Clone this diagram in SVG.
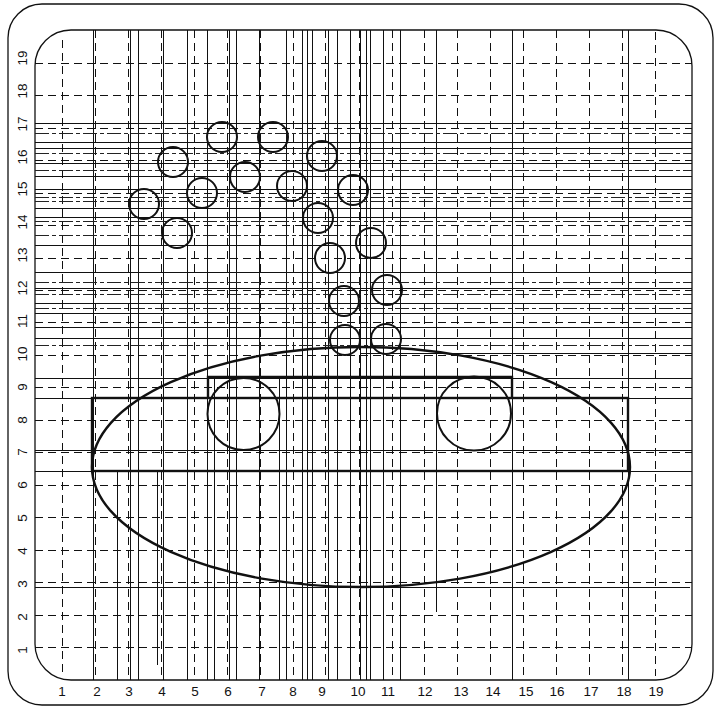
<svg xmlns="http://www.w3.org/2000/svg" width="715" height="708" viewBox="0 0 715 708">
<style>
.frame{fill:none;stroke:#111;stroke-width:1.3}
line{shape-rendering:crispEdges}
.dash{stroke:#111;stroke-width:1;stroke-dasharray:8 5;fill:none}
.thin{stroke:#111;stroke-width:1;fill:none}
.gray{stroke:#222;stroke-width:1;stroke-dasharray:14 3 4 3;fill:none}
.thick{stroke:#111;stroke-width:2.4;fill:none}
.circ{stroke:#111;stroke-width:2;fill:none}
.lab{font-family:"Liberation Sans","DejaVu Sans",sans-serif;font-size:13.5px;fill:#111;text-anchor:middle}
</style>
<rect width="715" height="708" fill="#fff"/>
<g id="frame">
<rect class="frame" x="8" y="4" width="705" height="701" rx="34" ry="34"/>
<rect class="frame" x="35" y="30" width="657" height="650" rx="36" ry="36"/>
</g>
<g id="grid">
<g id="grid-v">
<line class="dash" x1="62" y1="40" x2="62" y2="676"/>
<line class="dash" x1="95" y1="30" x2="95" y2="680"/>
<line class="dash" x1="128" y1="30" x2="128" y2="680"/>
<line class="dash" x1="161" y1="30" x2="161" y2="680"/>
<line class="dash" x1="194" y1="30" x2="194" y2="680"/>
<line class="dash" x1="227" y1="30" x2="227" y2="680"/>
<line class="dash" x1="260" y1="30" x2="260" y2="680"/>
<line class="dash" x1="293" y1="30" x2="293" y2="680"/>
<line class="dash" x1="325" y1="30" x2="325" y2="680"/>
<line class="dash" x1="359" y1="30" x2="359" y2="680"/>
<line class="dash" x1="392" y1="30" x2="392" y2="680"/>
<line class="dash" x1="424" y1="30" x2="424" y2="680"/>
<line class="dash" x1="457" y1="30" x2="457" y2="680"/>
<line class="dash" x1="490" y1="30" x2="490" y2="680"/>
<line class="dash" x1="523" y1="30" x2="523" y2="680"/>
<line class="dash" x1="556" y1="30" x2="556" y2="680"/>
<line class="dash" x1="589" y1="30" x2="589" y2="680"/>
<line class="dash" x1="622" y1="30" x2="622" y2="680"/>
<line class="dash" x1="655" y1="32" x2="655" y2="676"/>
</g>
<g id="grid-h">
<line class="dash" x1="35" y1="647" x2="692" y2="647"/>
<line class="dash" x1="35" y1="615" x2="692" y2="615"/>
<line class="dash" x1="35" y1="582" x2="692" y2="582"/>
<line class="dash" x1="35" y1="550" x2="692" y2="550"/>
<line class="dash" x1="35" y1="517" x2="692" y2="517"/>
<line class="dash" x1="35" y1="485" x2="692" y2="485"/>
<line class="dash" x1="35" y1="452" x2="692" y2="452"/>
<line class="dash" x1="35" y1="420" x2="692" y2="420"/>
<line class="dash" x1="35" y1="387" x2="692" y2="387"/>
<line class="dash" x1="35" y1="355" x2="692" y2="355"/>
<line class="dash" x1="35" y1="322" x2="692" y2="322"/>
<line class="dash" x1="35" y1="290" x2="692" y2="290"/>
<line class="dash" x1="35" y1="258" x2="692" y2="258"/>
<line class="dash" x1="35" y1="225" x2="692" y2="225"/>
<line class="dash" x1="35" y1="193" x2="692" y2="193"/>
<line class="dash" x1="35" y1="160" x2="692" y2="160"/>
<line class="dash" x1="35" y1="128" x2="692" y2="128"/>
<line class="dash" x1="35" y1="95" x2="692" y2="95"/>
<line class="dash" x1="35" y1="63" x2="692" y2="63"/>
</g>
</g>
<g id="construction-v">
<line class="thin" x1="93" y1="30" x2="93" y2="680"/>
<line class="thin" x1="117" y1="470" x2="117" y2="680"/>
<line class="thin" x1="130" y1="30" x2="130" y2="680"/>
<line class="thin" x1="138" y1="30" x2="138" y2="680"/>
<line class="thin" x1="157" y1="470" x2="157" y2="665"/>
<line class="thin" x1="163" y1="30" x2="163" y2="680"/>
<line class="thin" x1="187" y1="30" x2="187" y2="680"/>
<line class="thin" x1="207" y1="30" x2="207" y2="680"/>
<line class="thin" x1="214" y1="378" x2="214" y2="680"/>
<line class="thin" x1="229" y1="30" x2="229" y2="680"/>
<line class="thin" x1="236" y1="30" x2="236" y2="680"/>
<line class="thin" x1="259" y1="30" x2="259" y2="680"/>
<line class="thin" x1="279" y1="378" x2="279" y2="680"/>
<line class="thin" x1="286" y1="30" x2="286" y2="680"/>
<line class="thin" x1="302" y1="30" x2="302" y2="680"/>
<line class="thin" x1="307" y1="30" x2="307" y2="680"/>
<line class="thin" x1="312" y1="30" x2="312" y2="680"/>
<line class="thin" x1="328" y1="30" x2="328" y2="680"/>
<line class="thin" x1="337" y1="30" x2="337" y2="680"/>
<line class="thin" x1="350" y1="30" x2="350" y2="680"/>
<line class="thin" x1="360" y1="30" x2="360" y2="680"/>
<line class="thin" x1="366" y1="30" x2="366" y2="680"/>
<line class="thin" x1="370" y1="30" x2="370" y2="680"/>
<line class="thin" x1="383" y1="30" x2="383" y2="680"/>
<line class="thin" x1="400" y1="30" x2="400" y2="680"/>
<line class="thin" x1="436" y1="30" x2="436" y2="612"/>
<line class="thin" x1="512" y1="30" x2="512" y2="680"/>
<line class="thin" x1="628" y1="30" x2="628" y2="680"/>
</g>
<g id="construction-h">
<line class="thin" x1="35" y1="123" x2="692" y2="123"/>
<line class="gray" x1="35" y1="133" x2="692" y2="133"/>
<line class="thin" x1="35" y1="142" x2="692" y2="142"/>
<line class="thin" x1="35" y1="148" x2="692" y2="148"/>
<line class="gray" x1="35" y1="153" x2="692" y2="153"/>
<line class="thin" x1="35" y1="163" x2="692" y2="163"/>
<line class="gray" x1="35" y1="170" x2="692" y2="170"/>
<line class="thin" x1="35" y1="176" x2="692" y2="176"/>
<line class="thin" x1="35" y1="189" x2="692" y2="189"/>
<line class="gray" x1="35" y1="197" x2="692" y2="197"/>
<line class="gray" x1="35" y1="201" x2="692" y2="201"/>
<line class="thin" x1="35" y1="208" x2="692" y2="208"/>
<line class="thin" x1="35" y1="217" x2="692" y2="217"/>
<line class="gray" x1="35" y1="221" x2="692" y2="221"/>
<line class="gray" x1="35" y1="235" x2="692" y2="235"/>
<line class="thin" x1="35" y1="245" x2="692" y2="245"/>
<line class="thin" x1="35" y1="272" x2="692" y2="272"/>
<line class="gray" x1="35" y1="282" x2="692" y2="282"/>
<line class="thin" x1="35" y1="288" x2="692" y2="288"/>
<line class="gray" x1="35" y1="294" x2="692" y2="294"/>
<line class="thin" x1="35" y1="303" x2="692" y2="303"/>
<line class="gray" x1="35" y1="308" x2="692" y2="308"/>
<line class="thin" x1="35" y1="313" x2="692" y2="313"/>
<line class="thin" x1="35" y1="327" x2="692" y2="327"/>
<line class="thin" x1="35" y1="338" x2="692" y2="338"/>
<line class="gray" x1="35" y1="345" x2="692" y2="345"/>
<line class="thin" x1="360" y1="353" x2="692" y2="353"/>
<line class="thin" x1="35" y1="378" x2="692" y2="378"/>
<line class="thin" x1="35" y1="398" x2="692" y2="398"/>
<line class="thin" x1="35" y1="450" x2="692" y2="450"/>
<line class="thin" x1="35" y1="471" x2="692" y2="471"/>
<line class="thin" x1="35" y1="587" x2="690" y2="587"/>
</g>
<g id="ellipse">
<ellipse class="thick" cx="361" cy="467" rx="269" ry="120"/>
</g>
<g id="rect-upper">
<path class="thick" d="M208 398 V377 H512 V398"/>
</g>
<g id="rect-main">
<rect class="thick" x="92" y="398" width="536" height="73"/>
</g>
<g id="big-circles">
<circle id="circle-left" class="circ" cx="243.5" cy="414" r="36"/>
<circle id="circle-right" class="circ" cx="474" cy="413.5" r="37"/>
</g>
<g id="small-circles">
<circle class="circ" cx="222" cy="137" r="15"/>
<circle class="circ" cx="273" cy="137" r="15"/>
<circle class="circ" cx="173" cy="162" r="15"/>
<circle class="circ" cx="322" cy="156" r="15"/>
<circle class="circ" cx="245" cy="177" r="15"/>
<circle class="circ" cx="292" cy="186" r="15"/>
<circle class="circ" cx="202" cy="193" r="15"/>
<circle class="circ" cx="353" cy="190" r="15"/>
<circle class="circ" cx="144" cy="204" r="15"/>
<circle class="circ" cx="318" cy="218" r="15"/>
<circle class="circ" cx="177" cy="233" r="15"/>
<circle class="circ" cx="371" cy="243" r="15"/>
<circle class="circ" cx="330" cy="258" r="15"/>
<circle class="circ" cx="387" cy="290" r="15"/>
<circle class="circ" cx="344" cy="301" r="15"/>
<circle class="circ" cx="345" cy="340" r="15"/>
<circle class="circ" cx="386" cy="339" r="15"/>
</g>
<g id="x-labels">
<text class="lab" x="62" y="696">1</text>
<text class="lab" x="97" y="696">2</text>
<text class="lab" x="129" y="696">3</text>
<text class="lab" x="162" y="696">4</text>
<text class="lab" x="195" y="696">5</text>
<text class="lab" x="228" y="696">6</text>
<text class="lab" x="262" y="696">7</text>
<text class="lab" x="293" y="696">8</text>
<text class="lab" x="322" y="696">9</text>
<text class="lab" x="358" y="696">10</text>
<text class="lab" x="388" y="696">11</text>
<text class="lab" x="425" y="696">12</text>
<text class="lab" x="461" y="696">13</text>
<text class="lab" x="493" y="696">14</text>
<text class="lab" x="526" y="696">15</text>
<text class="lab" x="557" y="696">16</text>
<text class="lab" x="591" y="696">17</text>
<text class="lab" x="624" y="696">18</text>
<text class="lab" x="656" y="696">19</text>
</g>
<g id="y-labels">
<text class="lab" transform="translate(27 650) rotate(-90)">1</text>
<text class="lab" transform="translate(27 617) rotate(-90)">2</text>
<text class="lab" transform="translate(27 584) rotate(-90)">3</text>
<text class="lab" transform="translate(27 551) rotate(-90)">4</text>
<text class="lab" transform="translate(27 518) rotate(-90)">5</text>
<text class="lab" transform="translate(27 485) rotate(-90)">6</text>
<text class="lab" transform="translate(27 452) rotate(-90)">7</text>
<text class="lab" transform="translate(27 420) rotate(-90)">8</text>
<text class="lab" transform="translate(27 387) rotate(-90)">9</text>
<text class="lab" transform="translate(27 354) rotate(-90)">10</text>
<text class="lab" transform="translate(27 321) rotate(-90)">11</text>
<text class="lab" transform="translate(27 288) rotate(-90)">12</text>
<text class="lab" transform="translate(27 255) rotate(-90)">13</text>
<text class="lab" transform="translate(27 222) rotate(-90)">14</text>
<text class="lab" transform="translate(27 189) rotate(-90)">15</text>
<text class="lab" transform="translate(27 157) rotate(-90)">16</text>
<text class="lab" transform="translate(27 124) rotate(-90)">17</text>
<text class="lab" transform="translate(27 91) rotate(-90)">18</text>
<text class="lab" transform="translate(27 58) rotate(-90)">19</text>
</g>
</svg>
